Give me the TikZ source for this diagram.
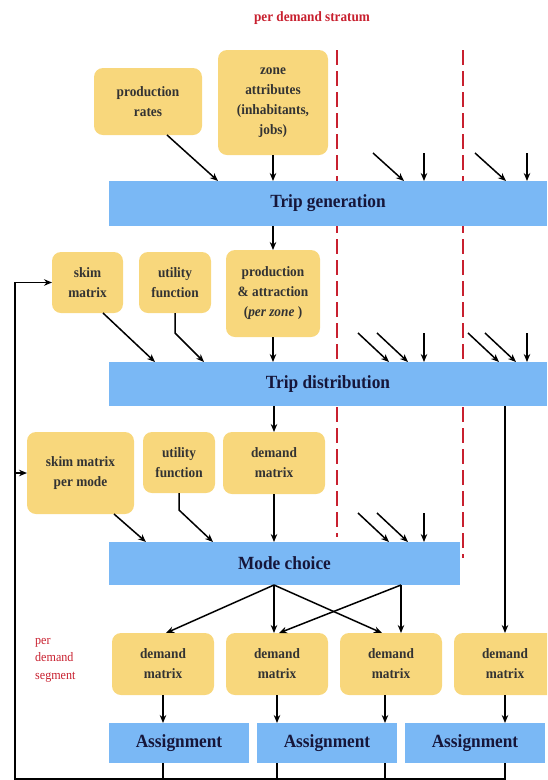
\documentclass[tikz,border=0pt]{standalone}
\usepackage{fontspec}
\setmainfont{Liberation Serif}[FakeStretch=0.93]
\usetikzlibrary{arrows.meta,positioning}

\definecolor{inputyellow}{HTML}{F8D77C}
\definecolor{stageblue}{HTML}{7AB8F5}
\definecolor{stratumred}{HTML}{C8202F}
\definecolor{stagetext}{HTML}{16163A}

\tikzset{
  inputbox/.style={fill=inputyellow, rounded corners=9pt, align=center,
    inner sep=2pt, outer sep=0pt, text=black!80,
    font=\fontsize{14.3}{20}\selectfont\bfseries},
  stagebar/.style={fill=stageblue, inner sep=0pt, outer sep=0pt, text=stagetext,
    font=\fontsize{18.6}{22}\selectfont\bfseries},
  flow/.style={-{Stealth[length=8pt,width=6.5pt]}, line width=1.5pt},
  loopline/.style={line width=1.5pt},
  stratumline/.style={draw=stratumred, line width=1.8pt, dash pattern=on 15pt off 6pt},
}

\begin{document}
\begin{tikzpicture}[x=1pt,y=-1pt]
  \clip (0,0) rectangle (547,780);

  % stratum separators (behind the bars)
  \draw[stratumline] (337,50) -- (337,537);
  \draw[stratumline] (463,50) -- (463,558);
  \node[text=stratumred, font=\fontsize{14.2}{16}\selectfont\bfseries] (stratum) at (312,18) {per demand stratum};

  % trip generation
  \node[inputbox, minimum width=108, minimum height=67] (rates) at (148,101.5) {production\\rates};
  \node[inputbox, minimum width=110, minimum height=105] (zone) at (273,102.5) {zone\\attributes\\(inhabitants,\\jobs)};
  \node[stagebar, minimum width=438, minimum height=45] (tg) at (328,203.5) {Trip generation};

  % trip distribution
  \node[inputbox, minimum width=71, minimum height=61] (skim) at (87.5,282.5) {skim\\matrix};
  \node[inputbox, minimum width=72, minimum height=61] (util) at (175,282.5) {utility\\function};
  \node[inputbox, minimum width=94, minimum height=87] (pa) at (273,293.5) {production\\\& attraction\\(\textit{per zone} )};
  \node[stagebar, minimum width=438, minimum height=44] (td) at (328,384) {Trip distribution};

  % mode choice
  \node[inputbox, minimum width=107, minimum height=82] (skimmode) at (80.5,473) {skim matrix\\per mode};
  \node[inputbox, minimum width=72, minimum height=61] (util2) at (179,462.5) {utility\\function};
  \node[inputbox, minimum width=102, minimum height=62] (dm0) at (274,463) {demand\\matrix};
  \node[stagebar, minimum width=351, minimum height=43] (mc) at (284.5,563.5) {Mode choice};

  % demand segments
  \node[anchor=north west, align=left, inner sep=0pt, text=stratumred,
    font=\fontsize{13}{17.5}\selectfont] (segment) at (35,638) {per\\demand\\segment};
  \node[inputbox, minimum width=102, minimum height=62] (dm1) at (163,664) {demand\\matrix};
  \node[inputbox, minimum width=102, minimum height=62, right=12pt of dm1] (dm2) {demand\\matrix};
  \node[inputbox, minimum width=102, minimum height=62, right=12pt of dm2] (dm3) {demand\\matrix};
  \node[inputbox, minimum width=102, minimum height=62, right=12pt of dm3] (dm4) {demand\\matrix};

  % assignment
  \node[stagebar, minimum width=140, minimum height=40] (as1) at (179,743) {Assignment};
  \node[stagebar, minimum width=140, minimum height=40, right=8pt of as1] (as2) {Assignment};
  \node[stagebar, minimum width=140, minimum height=40, right=8pt of as2] (as3) {Assignment};

  % inputs of trip generation
  \draw[flow] ([xshift=19pt]rates.south) -- ([xshift=109pt]tg.north west);
  \draw[flow] (zone.south) -- (zone.south |- tg.north);
  \foreach \dx in {295,397}
    \draw[flow] ([xshift={(\dx-31)*1pt}, yshift=28pt]tg.north west) -- ([xshift=\dx pt]tg.north west);
  \foreach \dx in {315,418}
    \draw[flow] ([xshift=\dx pt, yshift=28pt]tg.north west) -- ([xshift=\dx pt]tg.north west);

  % inputs of trip distribution
  \draw[flow] (pa.north |- tg.south) -- (pa.north);
  \draw[flow] ([xshift=15.5pt]skim.south) -- ([xshift=46pt]td.north west);
  \draw[flow] (util.south) -- ++(0,20) -- ([xshift=95pt]td.north west);
  \draw[flow] (pa.south) -- (pa.south |- td.north);
  \foreach \dx in {280,299,390,407}
    \draw[flow] ([xshift={(\dx-31)*1pt}, yshift=29pt]td.north west) -- ([xshift=\dx pt]td.north west);
  \foreach \dx in {315,418}
    \draw[flow] ([xshift=\dx pt, yshift=29pt]td.north west) -- ([xshift=\dx pt]td.north west);

  % inputs of mode choice
  \draw[flow] (dm0.north |- td.south) -- (dm0.north);
  \draw[flow] ([xshift=33.5pt]skimmode.south) -- ([xshift=37pt]mc.north west);
  \draw[flow] (util2.south) -- ++(0,17) -- ([xshift=104pt]mc.north west);
  \draw[flow] (dm0.south) -- (dm0.south |- mc.north);
  \foreach \dx in {280,299}
    \draw[flow] ([xshift={(\dx-31)*1pt}, yshift=29pt]mc.north west) -- ([xshift=\dx pt]mc.north west);
  \draw[flow] ([xshift=315pt, yshift=29pt]mc.north west) -- ([xshift=315pt]mc.north west);

  % split into segments
  \coordinate (fanA) at ([xshift=-10.5pt]mc.south);
  \coordinate (fanB) at ([xshift=116.5pt]mc.south);
  \draw[flow] (fanA) -- ([xshift=3pt]dm1.north);
  \draw[flow] (fanA) -- (fanA |- dm2.north);
  \draw[flow] (fanA) -- ([xshift=-9pt]dm3.north);
  \draw[flow] (fanB) -- ([xshift=2pt]dm2.north);
  \draw[flow] (fanB) -- (fanB |- dm3.north);
  \draw[flow] (dm4.north |- td.south) -- (dm4.north);

  % to assignment
  \draw[flow] (dm1.south) -- (dm1.south |- as1.north);
  \draw[flow] (dm2.south) -- (dm2.south |- as2.north);
  \draw[flow] ([xshift=-6pt]dm3.south) -- ([xshift=-6pt]dm3.south |- as2.north);
  \draw[flow] (dm4.south) -- (dm4.south |- as3.north);

  % feedback of skims
  \coordinate (loopcorner) at (15,779);
  \draw[loopline] (dm1.south |- as1.south) -- (dm1.south |- loopcorner);
  \draw[loopline] (dm2.south |- as2.south) -- (dm2.south |- loopcorner);
  \draw[loopline] ([xshift=-6pt]dm3.south |- as2.south) -- ([xshift=-6pt]dm3.south |- loopcorner);
  \draw[flow] (dm4.south |- as3.south) -- (dm4.south |- loopcorner) -- (loopcorner) |- (skim.west);
  \draw[flow] (loopcorner |- skimmode.west) -- (skimmode.west);
\end{tikzpicture}
\end{document}
